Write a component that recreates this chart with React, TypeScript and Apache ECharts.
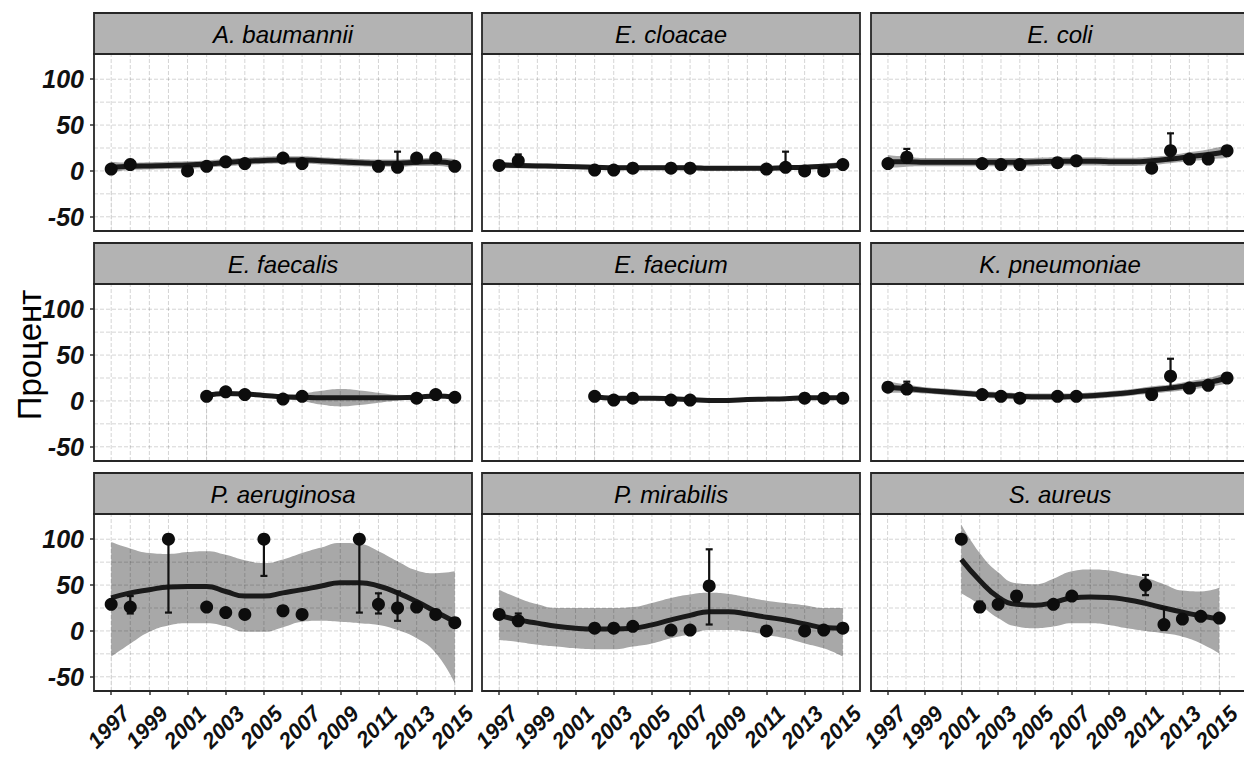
import React, { useEffect, useRef } from "react";
import * as echarts from "echarts";

// ---------- shared axes ----------
const YEARS = [1997, 1998, 1999, 2000, 2001, 2002, 2003, 2004, 2005, 2006, 2007, 2008, 2009, 2010, 2011, 2012, 2013, 2014, 2015];
const X_LABEL_YEARS = [1997, 1999, 2001, 2003, 2005, 2007, 2009, 2011, 2013, 2015];
const Y_TICKS = [-50, 0, 50, 100];
const Y_GRID = [-50, -25, 0, 25, 50, 75, 100];
const X_MIN = 1996.1;
const X_MAX = 2015.9;
const Y_MIN = -65.5;
const Y_MAX = 127.5;
const Y_TITLE = "Процент";

// ---------- A. baumannii ----------
const AB_YEARS = [1997, 1998, 2001, 2002, 2003, 2004, 2006, 2007, 2011, 2012, 2013, 2014, 2015];
const AB_VALUES = [2, 7, 0, 5, 10, 8, 14, 8, 5, 4, 14, 14, 5];
const AB_ERR_YEARS = [1998, 2012];
const AB_ERR_LO = [4, 3];
const AB_ERR_HI = [12, 21];
const AB_FIT = [4, 5, 5.5, 6, 6.5, 7.5, 9, 10.5, 11.5, 12, 12, 11, 10, 9, 8.5, 8.5, 9.5, 10, 8];
const AB_FIT_LO = [-2, 1, 1.5, 2, 2.5, 3.5, 5, 6.5, 7.5, 8, 8, 7, 6, 5, 4.5, 4.5, 5.5, 5.5, 3];
const AB_FIT_HI = [10, 9, 9.5, 10, 10.5, 11.5, 13, 14.5, 15.5, 16, 16, 15, 14, 13, 12.5, 12.5, 13.5, 14.5, 13];

// ---------- E. cloacae ----------
const ECL_YEARS = [1997, 1998, 2002, 2003, 2004, 2006, 2007, 2011, 2012, 2013, 2014, 2015];
const ECL_VALUES = [6, 11, 1, 1, 3, 3, 3, 2, 4, 0, 0, 7];
const ECL_ERR_YEARS = [1998, 2012];
const ECL_ERR_LO = [9, 2];
const ECL_ERR_HI = [18, 21];
const ECL_FIT = [6.5, 6, 5.5, 5, 4.5, 4, 3.5, 3.5, 3.5, 3.5, 3.5, 3, 3, 3, 3, 3.5, 4, 5, 6.5];
const ECL_FIT_LO = [3, 3, 3, 2.5, 2, 1.5, 1, 1, 1, 1, 1, 0.5, 0.5, 0.5, 0.5, 1, 1.5, 2, 3];
const ECL_FIT_HI = [10, 9, 8, 7.5, 7, 6.5, 6, 6, 6, 6, 6, 5.5, 5.5, 5.5, 5.5, 6, 6.5, 8, 10];

// ---------- E. coli ----------
const ECO_YEARS = [1997, 1998, 2002, 2003, 2004, 2006, 2007, 2011, 2012, 2013, 2014, 2015];
const ECO_VALUES = [8, 15, 8, 7, 7, 9, 11, 3, 22, 13, 13, 22];
const ECO_ERR_YEARS = [1998, 2012];
const ECO_ERR_LO = [9, 12];
const ECO_ERR_HI = [24, 41];
const ECO_FIT = [10, 10, 9.5, 9.5, 9.5, 9.5, 9.5, 9.5, 10, 10.5, 10.5, 10.5, 10, 10, 11, 13, 15.5, 18, 21];
const ECO_FIT_LO = [3, 4.5, 5, 5, 5, 5, 5, 5, 5.5, 6, 6, 6, 5.5, 5.5, 6.5, 8.5, 10.5, 12.5, 14];
const ECO_FIT_HI = [17, 15.5, 14, 14, 14, 14, 14, 14, 14.5, 15, 15, 15, 14.5, 14.5, 15.5, 17.5, 20.5, 23.5, 28];

// ---------- E. faecalis ----------
const EFS_YEARS = [2002, 2003, 2004, 2006, 2007, 2013, 2014, 2015];
const EFS_VALUES = [5, 10, 7, 2, 5, 3, 7, 4];
const EFS_ERR_YEARS: number[] = [];
const EFS_ERR_LO: number[] = [];
const EFS_ERR_HI: number[] = [];
const EFS_FIT = [null, null, null, null, null, 6, 8, 7.5, 6, 4.5, 4, 3.5, 3.5, 3.5, 3.5, 3.5, 4, 5.5, 4];
const EFS_FIT_LO = [null, null, null, null, null, 4.5, 6.5, 6, 4.5, 2.5, 0, -4, -6, -4.5, -2, 0.5, 2.5, 4, 2.5];
const EFS_FIT_HI = [null, null, null, null, null, 7.5, 9.5, 9, 7.5, 6.5, 8, 11, 13, 11.5, 9, 6.5, 5.5, 7, 5.5];

// ---------- E. faecium ----------
const EFM_YEARS = [2002, 2003, 2004, 2006, 2007, 2013, 2014, 2015];
const EFM_VALUES = [5, 1, 3, 1, 1, 3, 3, 3];
const EFM_ERR_YEARS: number[] = [];
const EFM_ERR_LO: number[] = [];
const EFM_ERR_HI: number[] = [];
const EFM_FIT = [null, null, null, null, null, 4.5, 3, 3, 3, 2.5, 1.5, 0.5, 0.5, 1.5, 2, 2.5, 3.5, 3.5, 3.5];
const EFM_FIT_LO = [null, null, null, null, null, 3.5, 2, 2, 2, 1.5, 0.5, -0.5, -0.5, 0.5, 1, 1.5, 2.5, 2.5, 2.5];
const EFM_FIT_HI = [null, null, null, null, null, 5.5, 4, 4, 4, 3.5, 2.5, 1.5, 1.5, 2.5, 3, 3.5, 4.5, 4.5, 4.5];

// ---------- K. pneumoniae ----------
const KP_YEARS = [1997, 1998, 2002, 2003, 2004, 2006, 2007, 2011, 2012, 2013, 2014, 2015];
const KP_VALUES = [15, 13, 7, 5, 3, 5, 5, 7, 27, 14, 17, 25];
const KP_ERR_YEARS = [1998, 2012];
const KP_ERR_LO = [8, 14];
const KP_ERR_HI = [21, 46];
const KP_FIT = [15, 13.5, 11.5, 10, 8.5, 7, 6, 5, 4.5, 4.5, 5, 6, 7.5, 9.5, 12, 14, 17, 20, 25];
const KP_FIT_LO = [9, 9, 8, 6.5, 5, 3.5, 2.5, 1.5, 1, 1, 1.5, 2.5, 4, 6, 8, 10, 12.5, 15, 19];
const KP_FIT_HI = [21, 18, 15, 13.5, 12, 10.5, 9.5, 8.5, 8, 8, 8.5, 9.5, 11, 13, 16, 18, 21.5, 25, 31];

// ---------- P. aeruginosa ----------
const PA_YEARS = [1997, 1998, 2000, 2002, 2003, 2004, 2005, 2006, 2007, 2010, 2011, 2012, 2013, 2014, 2015];
const PA_VALUES = [29, 26, 100, 26, 20, 18, 100, 22, 18, 100, 29, 25, 26, 18, 9];
const PA_ERR_YEARS = [1998, 2000, 2005, 2010, 2011, 2012];
const PA_ERR_LO = [19, 20, 60, 20, 19, 11];
const PA_ERR_HI = [38, 100, 100, 100, 41, 43];
const PA_FIT = [36, 41.5, 45, 48, 48.5, 48.5, 43, 38, 38, 41.5, 45, 49, 52.5, 52.5, 49, 41.5, 32, 21, 10];
const PA_FIT_LO = [-28, -14, -1, 6, 8.5, 8.5, 5, -1, -1, 4, 10, 11, 10, 8.5, 6.5, 1, -8, -24, -57];
const PA_FIT_HI = [97, 90, 85, 84, 86, 87, 83, 77, 74, 78, 85, 91, 96, 95, 87, 76, 66, 63, 65];

// ---------- P. mirabilis ----------
const PM_YEARS = [1997, 1998, 2002, 2003, 2004, 2006, 2007, 2008, 2011, 2013, 2014, 2015];
const PM_VALUES = [18, 11, 3, 3, 5, 1, 1, 49, 0, 0, 1, 3];
const PM_ERR_YEARS = [1998, 2008, 2011];
const PM_ERR_LO = [6, 7, -3];
const PM_ERR_HI = [19, 89, 4];
const PM_FIT = [17, 12, 8.5, 5, 3, 2.2, 2.2, 3, 6.6, 12, 17, 21, 21, 18.4, 15, 12, 7.7, 3.7, 3];
const PM_FIT_LO = [-10, -12, -15, -17, -19, -20, -20, -17, -13.6, -8, -3.7, 1, 1, -0.7, -4.4, -8, -13.6, -19, -28];
const PM_FIT_HI = [45, 36, 29, 25, 25, 25, 25, 26, 30.5, 36, 39.7, 41.5, 40.4, 36.8, 33, 30.5, 28, 25, 25];

// ---------- S. aureus ----------
const SA_YEARS = [2001, 2002, 2003, 2004, 2006, 2007, 2011, 2012, 2013, 2014, 2015];
const SA_VALUES = [100, 26, 29, 38, 29, 38, 50, 7, 13, 16, 14];
const SA_ERR_YEARS = [2002, 2004, 2011, 2012];
const SA_ERR_LO = [21, 32, 39, 1];
const SA_ERR_HI = [32, 43, 61, 25];
const SA_FIT = [null, null, null, null, 78, 55, 37, 29, 28, 31, 36, 37, 36.5, 34, 30, 25, 20.5, 16.5, 13];
const SA_FIT_LO = [null, null, null, null, 41, 28.6, 14, 4.7, 2.9, 4.7, 8.3, 8.3, 6.6, 2.9, 0, -2.6, -6.3, -13.6, -24.5];
const SA_FIT_HI = [null, null, null, null, 116, 85, 64, 52, 51, 57, 65, 67, 66, 62, 58, 51, 44, 43, 47];

type Panel = {
  name: string;
  years: number[];
  values: number[];
  errYears: number[];
  errLo: number[];
  errHi: number[];
  fit: (number | null)[];
  fitLo: (number | null)[];
  fitHi: (number | null)[];
};

const PANELS: Panel[] = [
  { name: "A. baumannii", years: AB_YEARS, values: AB_VALUES, errYears: AB_ERR_YEARS, errLo: AB_ERR_LO, errHi: AB_ERR_HI, fit: AB_FIT, fitLo: AB_FIT_LO, fitHi: AB_FIT_HI },
  { name: "E. cloacae", years: ECL_YEARS, values: ECL_VALUES, errYears: ECL_ERR_YEARS, errLo: ECL_ERR_LO, errHi: ECL_ERR_HI, fit: ECL_FIT, fitLo: ECL_FIT_LO, fitHi: ECL_FIT_HI },
  { name: "E. coli", years: ECO_YEARS, values: ECO_VALUES, errYears: ECO_ERR_YEARS, errLo: ECO_ERR_LO, errHi: ECO_ERR_HI, fit: ECO_FIT, fitLo: ECO_FIT_LO, fitHi: ECO_FIT_HI },
  { name: "E. faecalis", years: EFS_YEARS, values: EFS_VALUES, errYears: EFS_ERR_YEARS, errLo: EFS_ERR_LO, errHi: EFS_ERR_HI, fit: EFS_FIT, fitLo: EFS_FIT_LO, fitHi: EFS_FIT_HI },
  { name: "E. faecium", years: EFM_YEARS, values: EFM_VALUES, errYears: EFM_ERR_YEARS, errLo: EFM_ERR_LO, errHi: EFM_ERR_HI, fit: EFM_FIT, fitLo: EFM_FIT_LO, fitHi: EFM_FIT_HI },
  { name: "K. pneumoniae", years: KP_YEARS, values: KP_VALUES, errYears: KP_ERR_YEARS, errLo: KP_ERR_LO, errHi: KP_ERR_HI, fit: KP_FIT, fitLo: KP_FIT_LO, fitHi: KP_FIT_HI },
  { name: "P. aeruginosa", years: PA_YEARS, values: PA_VALUES, errYears: PA_ERR_YEARS, errLo: PA_ERR_LO, errHi: PA_ERR_HI, fit: PA_FIT, fitLo: PA_FIT_LO, fitHi: PA_FIT_HI },
  { name: "P. mirabilis", years: PM_YEARS, values: PM_VALUES, errYears: PM_ERR_YEARS, errLo: PM_ERR_LO, errHi: PM_ERR_HI, fit: PM_FIT, fitLo: PM_FIT_LO, fitHi: PM_FIT_HI },
  { name: "S. aureus", years: SA_YEARS, values: SA_VALUES, errYears: SA_ERR_YEARS, errLo: SA_ERR_LO, errHi: SA_ERR_HI, fit: SA_FIT, fitLo: SA_FIT_LO, fitHi: SA_FIT_HI },
];

// ---------- layout / style ----------
const COL_LEFT = [94, 482, 871];
const ROW_TOP = [13, 243, 473];
const PANEL_W = 378;
const STRIP_H = 41;
const PLOT_H = 177;
const FONT = '"Liberation Sans", Arial, Helvetica, sans-serif';
const INK = "#111111";
const BAND = "#a8a8a8";
const STRIP_FILL = "#b3b3b3";
const BORDER = "#262626";
const GRID_COLOR = "rgba(0,0,0,0.17)";

function buildOption() {
  const grids: any[] = [];
  const xAxes: any[] = [];
  const yAxes: any[] = [];
  const series: any[] = [];
  const graphics: any[] = [];

  PANELS.forEach((p, i) => {
    const r = Math.floor(i / 3);
    const c = i % 3;
    const left = COL_LEFT[c];
    const top = ROW_TOP[r] + STRIP_H;
    const isBottom = r === 2;
    const isLeft = c === 0;

    grids.push({
      left,
      top,
      width: PANEL_W,
      height: PLOT_H,
      show: true,
      backgroundColor: "#ffffff",
      borderWidth: 0,
      containLabel: false,
    });

    xAxes.push({
      gridIndex: i,
      type: "value",
      position: "bottom",
      min: X_MIN,
      max: X_MAX,
      axisLine: { show: false, onZero: false },
      splitLine: { show: false },
      axisTick: {
        show: isBottom,
        customValues: X_LABEL_YEARS,
        length: 4,
        lineStyle: { color: "#333", width: 1.5 },
      },
      axisLabel: {
        show: isBottom,
        customValues: X_LABEL_YEARS,
        rotate: 45,
        margin: 4,
        padding: [10, 0, 0, 0],
        verticalAlign: "top",
        fontSize: 22,
        fontStyle: "italic",
        fontWeight: "bold",
        fontFamily: FONT,
        color: INK,
        formatter: (v: number) => String(Math.round(v)),
      },
    });

    yAxes.push({
      gridIndex: i,
      type: "value",
      position: "left",
      min: Y_MIN,
      max: Y_MAX,
      axisLine: { show: false, onZero: false },
      splitLine: { show: false },
      axisTick: {
        show: isLeft,
        customValues: Y_TICKS,
        length: 4,
        lineStyle: { color: "#333", width: 1.5 },
      },
      axisLabel: {
        show: isLeft,
        customValues: Y_TICKS,
        margin: 10,
        fontSize: 25,
        fontStyle: "italic",
        fontWeight: "bold",
        fontFamily: FONT,
        color: INK,
        formatter: (v: number) => String(Math.round(v)),
      },
    });

    const fitIdx = YEARS.map((_, k) => k).filter((k) => p.fit[k] != null);

    // confidence band: grey fill down from the upper bound, white fill down from the lower bound
    series.push({
      type: "line",
      xAxisIndex: i,
      yAxisIndex: i,
      data: fitIdx.map((k) => [YEARS[k], p.fitHi[k]]),
      smooth: true,
      symbol: "none",
      silent: true,
      lineStyle: { width: 0, opacity: 0 },
      areaStyle: { color: BAND, opacity: 1, origin: "start" },
      z: 2,
    });
    series.push({
      type: "line",
      xAxisIndex: i,
      yAxisIndex: i,
      data: fitIdx.map((k) => [YEARS[k], p.fitLo[k]]),
      smooth: true,
      symbol: "none",
      silent: true,
      lineStyle: { width: 0, opacity: 0 },
      areaStyle: { color: "#ffffff", opacity: 1, origin: "start" },
      z: 3,
    });

    // panel grid lines (every year, every 25 %)
    series.push({
      type: "custom",
      xAxisIndex: i,
      yAxisIndex: i,
      silent: true,
      z: 4,
      data: [[X_MIN, Y_MIN]],
      renderItem: (_params: any, api: any) => {
        const children: any[] = [];
        YEARS.forEach((x) => {
          const a = api.coord([x, Y_MIN]);
          const b = api.coord([x, Y_MAX]);
          children.push({
            type: "line",
            shape: { x1: a[0], y1: a[1], x2: b[0], y2: b[1] },
            style: { stroke: GRID_COLOR, lineWidth: 1, lineDash: [4, 2] },
          });
        });
        Y_GRID.forEach((y) => {
          const a = api.coord([X_MIN, y]);
          const b = api.coord([X_MAX, y]);
          children.push({
            type: "line",
            shape: { x1: a[0], y1: a[1], x2: b[0], y2: b[1] },
            style: { stroke: GRID_COLOR, lineWidth: 1, lineDash: [4, 2] },
          });
        });
        return { type: "group", children };
      },
    });

    // fitted curve
    series.push({
      type: "line",
      xAxisIndex: i,
      yAxisIndex: i,
      data: fitIdx.map((k) => [YEARS[k], p.fit[k]]),
      smooth: true,
      symbol: "none",
      silent: true,
      lineStyle: { color: "#1a1a1a", width: 5 },
      z: 5,
    });

    // error bars
    if (p.errYears.length) {
      series.push({
        type: "custom",
        xAxisIndex: i,
        yAxisIndex: i,
        silent: true,
        z: 6,
        data: p.errYears.map((y, k) => [y, p.errLo[k], p.errHi[k]]),
        encode: { x: 0, y: [1, 2] },
        renderItem: (_params: any, api: any) => {
          const x = api.value(0);
          const lo = api.coord([x, api.value(1)]);
          const hi = api.coord([x, api.value(2)]);
          const cap = 3.5;
          const st = { stroke: "#111", lineWidth: 2.2 };
          return {
            type: "group",
            children: [
              { type: "line", shape: { x1: lo[0], y1: lo[1], x2: hi[0], y2: hi[1] }, style: st },
              { type: "line", shape: { x1: lo[0] - cap, y1: lo[1], x2: lo[0] + cap, y2: lo[1] }, style: st },
              { type: "line", shape: { x1: hi[0] - cap, y1: hi[1], x2: hi[0] + cap, y2: hi[1] }, style: st },
            ],
          };
        },
      });
    }

    // observed points
    series.push({
      type: "scatter",
      xAxisIndex: i,
      yAxisIndex: i,
      data: p.years.map((y, k) => [y, p.values[k]]),
      symbol: "circle",
      symbolSize: 13,
      silent: true,
      itemStyle: { color: "#0d0d0d", opacity: 1 },
      z: 7,
    });

    // strip
    graphics.push({
      type: "rect",
      z: 50,
      shape: { x: left, y: ROW_TOP[r], width: PANEL_W, height: STRIP_H },
      style: { fill: STRIP_FILL, stroke: BORDER, lineWidth: 1.8 },
    });
    graphics.push({
      type: "text",
      z: 51,
      x: left + PANEL_W / 2,
      y: ROW_TOP[r] + STRIP_H / 2 + 1,
      style: {
        text: p.name,
        fill: "#000",
        font: `italic 24px ${FONT}`,
        textAlign: "center",
        textVerticalAlign: "middle",
        align: "center",
        verticalAlign: "middle",
      },
    });
    // panel border
    graphics.push({
      type: "rect",
      z: 50,
      shape: { x: left, y: top, width: PANEL_W, height: PLOT_H },
      style: { fill: "none", stroke: BORDER, lineWidth: 1.8 },
    });
  });

  graphics.push({
    type: "text",
    z: 51,
    x: 29,
    y: 355,
    rotation: Math.PI / 2,
    style: {
      text: Y_TITLE,
      fill: "#000",
      font: `33px ${FONT}`,
      textAlign: "center",
      textVerticalAlign: "middle",
      align: "center",
      verticalAlign: "middle",
    },
  });

  return {
    animation: false,
    backgroundColor: "#ffffff",
    grid: grids,
    xAxis: xAxes,
    yAxis: yAxes,
    series,
    graphic: { elements: graphics },
  };
}

export default function App() {
  const ref = useRef<HTMLDivElement | null>(null);
  useEffect(() => {
    if (!ref.current) return;
    const chart = echarts.init(ref.current, undefined, { renderer: "svg" });
    chart.setOption(buildOption() as any);
    return () => chart.dispose();
  }, []);
  return (
    <div
      ref={ref}
      style={{ position: "fixed", left: 0, top: 0, width: 1244, height: 758, background: "#fff" }}
    />
  );
}
